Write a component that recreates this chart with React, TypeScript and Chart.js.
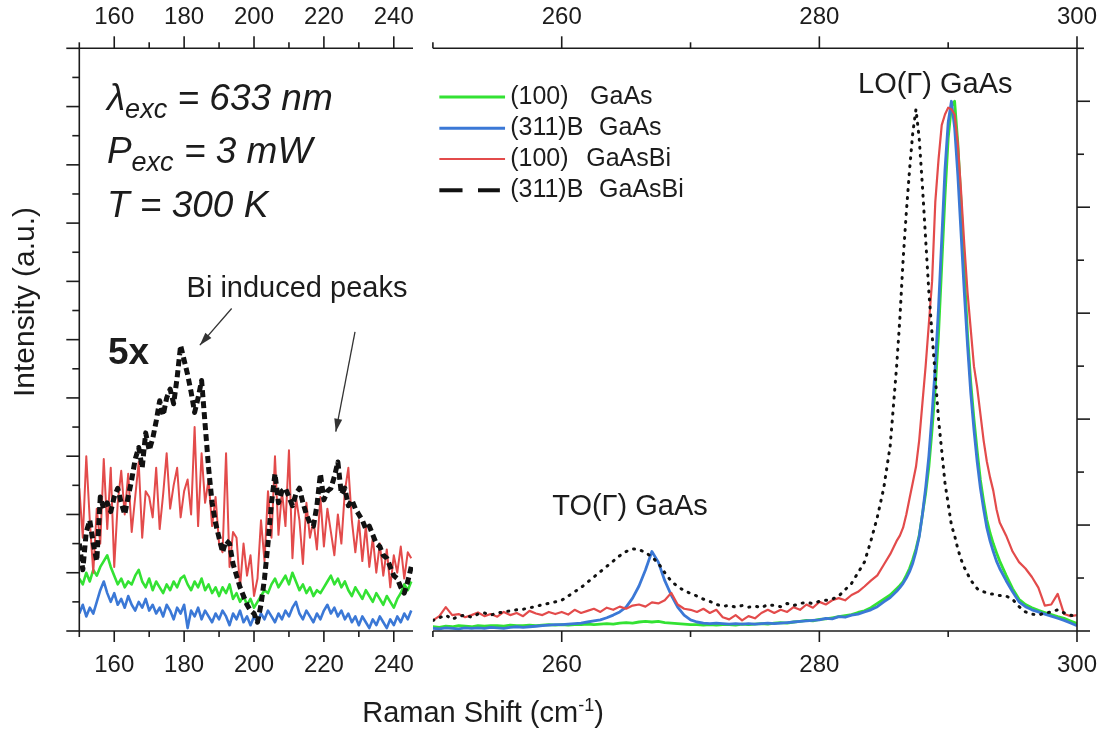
import React, { useEffect, useRef } from "react";
import { Chart, registerables } from "chart.js";

Chart.register(...registerables);

const W = 1100;
const H = 735;
const FONT = "'Liberation Sans', Arial, Helvetica, sans-serif";
const INK = "#1c1c1c";

const GREEN = "#33e233";
const BLUE = "#3b78d6";
const RED = "#e34b4b";
const BLACK = "#111111";

// ---- Low-frequency window (150–245 cm^-1), intensities scaled 5x ----
const lowShift = [
  150, 151, 152, 153, 154, 155, 156, 157, 158, 159,
  160, 161, 162, 163, 164, 165, 166, 167, 168, 169,
  170, 171, 172, 173, 174, 175, 176, 177, 178, 179,
  180, 181, 182, 183, 184, 185, 186, 187, 188, 189,
  190, 191, 192, 193, 194, 195, 196, 197, 198, 199,
  200, 201, 202, 203, 204, 205, 206, 207, 208, 209,
  210, 211, 212, 213, 214, 215, 216, 217, 218, 219,
  220, 221, 222, 223, 224, 225, 226, 227, 228, 229,
  230, 231, 232, 233, 234, 235, 236, 237, 238, 239,
  240, 241, 242, 243, 244, 245,
];

const lowGaAs100 = [
  1.8, 1.6, 2.0, 1.7, 2.1, 1.9, 2.2, 2.4, 2.6, 2.2,
  1.9, 1.6, 1.8, 1.5, 1.7, 1.6, 1.9, 2.1, 1.7, 1.5,
  1.8, 1.4, 1.7, 1.5, 1.3, 1.6, 1.4, 1.7, 1.5, 1.8,
  1.9, 1.6, 1.4, 1.7, 1.5, 1.8, 1.4, 1.6, 1.3, 1.5,
  1.2, 1.5, 1.3, 1.6, 1.1, 1.3, 1.0, 1.2, 0.9, 1.1,
  0.8, 1.0, 1.2, 1.4, 1.3, 1.6, 1.8, 1.5, 1.7, 1.9,
  1.6, 2.0, 1.7, 1.4, 1.6, 1.3, 1.5, 1.2, 1.4, 1.3,
  1.5, 1.7, 1.9, 1.6, 1.8, 1.5, 1.7, 1.4, 1.2, 1.5,
  1.3, 1.1, 1.4, 1.2, 1.0, 1.3, 1.1, 0.9, 1.2, 1.0,
  0.8, 1.1, 1.3, 1.6, 1.4, 1.7,
];

const lowGaAs311 = [
  0.6, 0.9, 0.5, 0.8, 0.6, 1.0, 1.4, 1.7, 1.3, 1.0,
  1.3, 0.9, 1.1, 0.8, 1.2, 0.9, 0.7, 1.0, 0.8, 1.1,
  0.7, 0.9, 0.6, 0.8, 0.5, 0.9, 0.7, 0.4, 0.8, 0.6,
  0.9, 0.1, 0.7, 0.5, 0.8, 0.4, 0.7, 0.5, 0.3, 0.6,
  0.4, 0.7, 0.5, 0.2, 0.6, 0.4, 0.7, 0.3, 0.5, 0.2,
  0.5, 0.3, 0.6, 0.4, 0.7, 0.5, 0.3, 0.6, 0.4, 0.7,
  0.5, 0.8, 1.0, 0.6, 0.4, 0.7, 0.5, 0.3, 0.6, 0.4,
  0.7, 0.9, 0.6, 0.8, 0.5, 0.7, 0.4, 0.6, 0.3, 0.5,
  0.2, 0.5, 0.3, 0.1, 0.4, 0.2, 0.5, 0.3, 0.1, 0.4,
  0.2, 0.5, 0.3, 0.6, 0.4, 0.7,
];

const lowBi100 = [
  4.9, 3.2, 6.0, 3.8, 2.0, 4.2, 3.0, 5.9, 3.5, 5.6,
  2.2, 4.4, 5.5, 4.0, 5.4, 3.4, 4.6, 5.8, 3.2, 4.8,
  4.6, 3.9, 5.6, 3.5, 4.7, 6.1, 4.2, 5.0, 5.6, 3.9,
  4.8, 5.2, 4.0, 7.0, 3.6, 6.1, 4.4, 5.2, 3.6, 4.6,
  3.0, 2.7, 6.1, 2.2, 3.4, 3.2, 1.5, 3.0, 1.9, 2.6,
  1.2, 1.8, 3.8, 2.4, 4.8, 3.2, 6.0, 3.3, 4.8, 3.6,
  6.2, 2.5, 4.6, 3.8, 2.3, 4.4, 3.2, 3.8, 2.8, 4.6,
  2.9, 4.2, 3.4, 2.6, 4.0, 3.0, 4.8, 5.6, 3.8, 2.7,
  3.8, 2.4, 3.6, 2.2, 3.2, 2.0, 3.0, 1.9, 2.8, 1.5,
  2.6, 2.0, 2.9, 1.8, 2.7, 2.5,
];

const lowBi311 = [
  3.0, 2.1, 3.4, 3.8, 3.0, 2.4, 4.6, 4.2, 4.4, 4.1,
  4.6, 4.9, 4.4, 4.0, 4.6, 5.2, 5.9, 6.3, 5.6, 6.8,
  6.2, 6.6, 7.2, 7.9, 7.4, 8.0, 8.3, 7.8, 8.7, 9.8,
  9.3, 8.8, 8.2, 7.5, 8.0, 8.6, 7.1, 5.6, 4.4, 3.7,
  3.2, 2.7, 3.1, 3.0, 2.3, 1.9, 1.5, 1.2, 0.9, 0.7,
  0.6, 0.3, 0.9, 1.8, 3.0, 4.4, 5.4, 4.4, 4.8, 4.9,
  4.6, 4.3, 4.7, 4.9, 4.4, 4.0, 3.7, 3.6, 4.3, 5.4,
  4.5, 4.8, 4.9, 5.3, 5.8, 4.7, 4.9, 4.3, 4.5, 4.2,
  4.0, 3.8, 3.5, 3.6, 3.3, 3.0, 2.9, 2.6, 2.5, 2.2,
  1.9, 1.8, 1.5, 1.3, 1.7, 2.2,
];

// ---- Phonon window (250–300 cm^-1) ----
const highShift = [
  250, 250.5, 251, 251.5, 252, 252.5, 253, 253.5, 254, 254.5,
  255, 255.5, 256, 256.5, 257, 257.5, 258, 258.5, 259, 259.5,
  260, 260.5, 261, 261.5, 262, 262.5, 263, 263.5, 264, 264.5,
  265, 265.5, 266, 266.5, 267, 267.5, 268, 268.5, 269, 269.5,
  270, 270.5, 271, 271.5, 272, 272.5, 273, 273.5, 274, 274.5,
  275, 275.5, 276, 276.5, 277, 277.5, 278, 278.5, 279, 279.5,
  280, 280.5, 281, 281.5, 282, 282.5, 283, 283.5, 284, 284.5,
  285, 285.5, 286,
  286.25, 286.5, 286.75, 287, 287.25, 287.5, 287.75, 288,
  288.25, 288.5, 288.75, 289, 289.25, 289.5, 289.75, 290,
  290.25, 290.5, 290.75, 291, 291.25, 291.5, 291.75, 292,
  292.25, 292.5, 292.75, 293, 293.25, 293.5, 293.75, 294,
  294.5, 295, 295.5, 296, 296.5, 297, 297.5, 298, 298.5, 299, 299.5, 300,
];

const highGaAs100 = [
  0.08, 0.07, 0.09, 0.08, 0.10, 0.09, 0.08, 0.10, 0.09, 0.10,
  0.10, 0.09, 0.11, 0.10, 0.10, 0.11, 0.10, 0.11, 0.12, 0.11,
  0.12, 0.11, 0.12, 0.12, 0.13, 0.12, 0.13, 0.14, 0.13, 0.15,
  0.16, 0.15, 0.17, 0.18, 0.17, 0.18, 0.16, 0.15, 0.14, 0.13,
  0.12, 0.12, 0.11, 0.12, 0.11, 0.12, 0.12, 0.11, 0.13, 0.12,
  0.13, 0.14, 0.13, 0.15, 0.16, 0.15, 0.17, 0.18, 0.20, 0.19,
  0.22, 0.23, 0.25, 0.27, 0.29, 0.31, 0.35, 0.38, 0.44, 0.52,
  0.60, 0.68, 0.80,
  0.86, 0.93, 1.05, 1.18, 1.35, 1.55, 1.80, 2.20,
  2.60, 3.10, 3.80, 4.60, 5.60, 6.90, 8.20, 9.30,
  9.90, 10.0, 9.20, 8.10, 6.80, 5.60, 4.70, 4.00,
  3.40, 2.85, 2.45, 2.10, 1.85, 1.65, 1.48, 1.32,
  1.05, 0.80, 0.60, 0.50, 0.44, 0.39, 0.35, 0.31, 0.27, 0.24, 0.19, 0.14,
];

const highGaAs311 = [
  0.05, 0.04, 0.06, 0.05, 0.04, 0.06, 0.05, 0.06, 0.05, 0.07,
  0.06, 0.05, 0.07, 0.08, 0.07, 0.08, 0.09, 0.10, 0.11, 0.12,
  0.12, 0.13, 0.14, 0.15, 0.17, 0.19, 0.21, 0.25, 0.30, 0.36,
  0.45, 0.62, 0.85, 1.15, 1.50, 1.30, 0.95, 0.68, 0.45, 0.30,
  0.21, 0.17, 0.15, 0.14, 0.15, 0.14, 0.13, 0.14, 0.13, 0.14,
  0.13, 0.14, 0.15, 0.14, 0.15, 0.16, 0.17, 0.18, 0.19, 0.20,
  0.21, 0.24, 0.23, 0.27, 0.26, 0.30, 0.32, 0.36, 0.40, 0.46,
  0.55, 0.63, 0.75,
  0.82, 0.90, 1.00, 1.12, 1.28, 1.50, 1.78, 2.20,
  2.70, 3.30, 4.10, 5.00, 6.10, 7.40, 8.70, 9.60,
  10.0, 9.50, 8.60, 7.50, 6.40, 5.40, 4.50, 3.80,
  3.20, 2.70, 2.30, 1.95, 1.70, 1.50, 1.32, 1.18,
  0.95, 0.74, 0.55, 0.46, 0.40, 0.36, 0.32, 0.28, 0.24, 0.20, 0.15, 0.10,
];

const highBi100 = [
  0.20, 0.28, 0.45, 0.30, 0.32, 0.26, 0.30, 0.35, 0.28, 0.32,
  0.27, 0.36, 0.30, 0.34, 0.28, 0.38, 0.33, 0.30, 0.36, 0.32,
  0.36, 0.31, 0.40, 0.34, 0.38, 0.42, 0.36, 0.44, 0.40, 0.46,
  0.42, 0.48, 0.50, 0.46, 0.54, 0.52, 0.58, 0.72, 0.50, 0.42,
  0.40, 0.36, 0.42, 0.34, 0.40, 0.26, 0.22, 0.30, 0.20, 0.28,
  0.24, 0.34, 0.40, 0.34, 0.40, 0.36, 0.45, 0.40, 0.50, 0.44,
  0.55, 0.50, 0.58, 0.62, 0.58, 0.68, 0.74, 0.84, 0.95, 1.05,
  1.25, 1.45, 1.70,
  1.80, 1.95, 2.20, 2.50, 2.80, 3.10, 3.60, 4.30,
  5.00, 5.80, 6.60, 8.10, 8.90, 9.55, 9.75, 9.88,
  9.85, 9.75, 9.20, 8.30, 7.30, 6.40, 5.70, 5.00,
  4.60, 4.10, 3.60, 3.20, 2.90, 2.65, 2.30, 2.05,
  1.80, 1.50, 1.30, 1.18, 1.02, 0.82, 0.48, 0.50, 0.70, 0.32, 0.28, 0.30,
];

const highBi311 = [
  0.20, 0.25, 0.30, 0.22, 0.28, 0.30, 0.26, 0.32, 0.34, 0.30,
  0.34, 0.36, 0.38, 0.40, 0.41, 0.44, 0.46, 0.50, 0.52, 0.55,
  0.58, 0.66, 0.74, 0.82, 0.92, 1.02, 1.12, 1.22, 1.32, 1.42,
  1.50, 1.55, 1.54, 1.48, 1.40, 1.28, 1.10, 0.94, 0.84, 0.76,
  0.71, 0.66, 0.60, 0.56, 0.50, 0.47, 0.48, 0.45, 0.48, 0.45,
  0.47, 0.44, 0.50, 0.48, 0.46, 0.52, 0.48, 0.52, 0.54, 0.52,
  0.56, 0.58, 0.60, 0.66, 0.78, 0.90, 1.10, 1.30, 1.70, 2.15,
  2.70, 3.50, 5.00,
  5.90, 7.00, 7.90, 8.70, 9.40, 9.85, 9.30, 8.40,
  7.40, 6.40, 5.60, 4.80, 4.00, 3.40, 2.80, 2.40,
  2.00, 1.80, 1.55, 1.35, 1.20, 1.08, 0.96, 0.88,
  0.80, 0.76, 0.74, 0.72, 0.70, 0.70, 0.68, 0.67,
  0.66, 0.60, 0.46, 0.36, 0.32, 0.30, 0.34, 0.36, 0.40, 0.34, 0.30, 0.26,
];

// ---- Axis ticks ----
const lowMajorTicks = [160, 180, 200, 220, 240];
const lowMinorTicks = [150, 170, 190, 210, 230];
const highMajorTicks = [260, 280, 300];
const highMinorTicks = [250, 270, 290];

const seriesFacet = ["(100)", "(311)B", "(100)", "(311)B"];
const seriesMaterial = ["GaAs", "GaAs", "GaAsBi", "GaAsBi"];

type Ctx = CanvasRenderingContext2D;

function seg(ctx: Ctx, x1: number, y1: number, x2: number, y2: number) {
  ctx.beginPath();
  ctx.moveTo(x1, y1);
  ctx.lineTo(x2, y2);
  ctx.stroke();
}

function arrow(ctx: Ctx, x1: number, y1: number, x2: number, y2: number) {
  ctx.save();
  ctx.strokeStyle = "#333";
  ctx.fillStyle = "#333";
  ctx.lineWidth = 1.3;
  seg(ctx, x1, y1, x2, y2);
  const ang = Math.atan2(y2 - y1, x2 - x1);
  const len = 13;
  const half = 4;
  ctx.beginPath();
  ctx.moveTo(x2, y2);
  ctx.lineTo(x2 - len * Math.cos(ang) + half * Math.sin(ang), y2 - len * Math.sin(ang) - half * Math.cos(ang));
  ctx.lineTo(x2 - len * Math.cos(ang) - half * Math.sin(ang), y2 - len * Math.sin(ang) + half * Math.cos(ang));
  ctx.closePath();
  ctx.fill();
  ctx.restore();
}

// text made of runs: [text, font, baseline shift]
function runs(ctx: Ctx, x: number, y: number, parts: [string, string, number][]) {
  let cx = x;
  for (const [t, f, dy] of parts) {
    ctx.font = f;
    ctx.fillText(t, cx, y + dy);
    cx += ctx.measureText(t).width;
  }
}

function runsWidth(ctx: Ctx, parts: [string, string, number][]) {
  let w = 0;
  for (const [t, f] of parts) {
    ctx.font = f;
    w += ctx.measureText(t).width;
  }
  return w;
}

function drawFrame(chart: Chart, majors: number[], minors: number[], side: "left" | "right") {
  const { ctx, chartArea: a } = chart;
  const sx = chart.scales.x;
  const sy = chart.scales.y;
  ctx.save();
  ctx.strokeStyle = INK;
  ctx.lineWidth = 1.6;
  seg(ctx, a.left, a.top, a.right, a.top);
  seg(ctx, a.left, a.bottom, a.right, a.bottom);
  const axisX = side === "left" ? a.left : a.right;
  seg(ctx, axisX, a.top, axisX, a.bottom);
  for (const v of majors) {
    const px = sx.getPixelForValue(v);
    seg(ctx, px, a.top, px, a.top - 12);
    seg(ctx, px, a.bottom, px, a.bottom + 11);
  }
  for (const v of minors) {
    const px = sx.getPixelForValue(v);
    seg(ctx, px, a.top, px, a.top - 6);
    seg(ctx, px, a.bottom, px, a.bottom + 6);
  }
  for (let v = sy.min; v <= sy.max + 1e-6; v += 1) {
    const py = sy.getPixelForValue(v);
    const len = Math.round(v) % 2 === 0 ? 13 : 7;
    if (side === "left") seg(ctx, a.left - len, py, a.left, py);
    else seg(ctx, a.right, py, a.right + len, py);
  }
  ctx.fillStyle = INK;
  ctx.font = `24px ${FONT}`;
  ctx.textAlign = "center";
  ctx.textBaseline = "alphabetic";
  for (const v of majors) {
    const px = sx.getPixelForValue(v);
    ctx.fillText(String(v), px, a.top - 24);
    ctx.fillText(String(v), px, a.bottom + 41);
  }
  ctx.restore();
}

const lowDecor = {
  id: "lowDecor",
  afterDraw(chart: Chart) {
    drawFrame(chart, lowMajorTicks, lowMinorTicks, "left");
    const { ctx } = chart;
    const sx = chart.scales.x;
    const sy = chart.scales.y;
    const X = (v: number) => sx.getPixelForValue(v);
    const Y = (v: number) => sy.getPixelForValue(v);
    ctx.save();
    ctx.fillStyle = INK;
    ctx.textAlign = "left";
    ctx.textBaseline = "alphabetic";

    const big = `italic 37px ${FONT}`;
    const sub = `italic 27px ${FONT}`;
    runs(ctx, X(157.9), Y(17.87), [["λ", big, 0], ["exc", sub, 8], [" = 633 nm", big, 0]]);
    runs(ctx, X(157.9), Y(16.05), [["P", big, 0], ["exc", sub, 8], [" = 3 mW", big, 0]]);
    runs(ctx, X(157.9), Y(14.2), [["T = 300 K", big, 0]]);

    ctx.font = `29px ${FONT}`;
    ctx.fillText("Bi induced peaks", X(180.7), Y(11.47));
    ctx.font = `bold 37px ${FONT}`;
    ctx.fillText("5x", X(158.2), Y(9.15));

    arrow(ctx, X(193.6), Y(11.07), X(184.5), Y(9.81));
    arrow(ctx, X(228.9), Y(10.27), X(223.4), Y(6.84));

    // y title
    ctx.save();
    ctx.translate(26, 302);
    ctx.rotate(-Math.PI / 2);
    ctx.textAlign = "center";
    ctx.font = `30px ${FONT}`;
    ctx.textBaseline = "middle";
    ctx.fillText("Intensity (a.u.)", 0, 0);
    ctx.restore();

    // x title with superscript
    const main = `29px ${FONT}`;
    const sup = `18px ${FONT}`;
    const title: [string, string, number][] = [["Raman Shift (cm", main, 0], ["-1", sup, -11], [")", main, 0]];
    const tw = runsWidth(ctx, title);
    runs(ctx, 483 - tw / 2, 722, title);
    ctx.restore();
  },
};

const highDecor = {
  id: "highDecor",
  afterDraw(chart: Chart) {
    drawFrame(chart, highMajorTicks, highMinorTicks, "right");
    const { ctx } = chart;
    const sx = chart.scales.x;
    const sy = chart.scales.y;
    const X = (v: number) => sx.getPixelForValue(v);
    const Y = (v: number) => sy.getPixelForValue(v);
    ctx.save();
    ctx.fillStyle = INK;
    ctx.textBaseline = "alphabetic";
    ctx.font = `29px ${FONT}`;
    ctx.textAlign = "center";
    ctx.fillText("LO(Γ) GaAs", X(289), Y(10.15));
    ctx.fillText("TO(Γ) GaAs", X(265.3), Y(2.19));

    // legend
    const rows = [10.08, 9.49, 8.91, 8.32];
    const materialAt = [262.2, 262.9, 261.9, 262.9];
    const colors = [GREEN, BLUE, RED, BLACK];
    ctx.textAlign = "left";
    ctx.textBaseline = "middle";
    rows.forEach((rv, i) => {
      const py = Y(rv);
      ctx.save();
      ctx.strokeStyle = colors[i];
      if (i === 3) {
        ctx.lineWidth = 4;
        seg(ctx, X(250.5), py, X(252.3), py);
        seg(ctx, X(253.5), py, X(255.2), py);
      } else {
        ctx.lineWidth = i === 2 ? 2.2 : 3;
        seg(ctx, X(250.5), py, X(255.6), py);
      }
      ctx.restore();
      ctx.font = `25px ${FONT}`;
      ctx.fillText(seriesFacet[i], X(256.0), py);
      ctx.fillText(seriesMaterial[i], X(materialAt[i]), py);
    });
    ctx.restore();
  },
};

function pts(xs: number[], ys: number[]) {
  return xs.map((x, i) => ({ x, y: ys[i] }));
}

function ds(label: string, xs: number[], ys: number[], color: string, width: number, dash?: number[], cap?: CanvasLineCap) {
  return {
    label,
    data: pts(xs, ys),
    borderColor: color,
    borderWidth: width,
    borderDash: dash ?? [],
    borderCapStyle: cap ?? "butt",
    borderJoinStyle: "round" as CanvasLineJoin,
    pointRadius: 0,
    tension: 0,
    fill: false,
  };
}

function makeConfig(
  datasets: any[],
  xmin: number,
  xmax: number,
  ymax: number,
  padding: { left: number; right: number; top: number; bottom: number },
  plugin: any
) {
  return {
    type: "line" as const,
    data: { datasets },
    options: {
      animation: false as const,
      responsive: false,
      devicePixelRatio: 1,
      layout: { padding },
      plugins: { legend: { display: false }, tooltip: { enabled: false }, title: { display: false } },
      events: [],
      scales: {
        x: { type: "linear" as const, min: xmin, max: xmax, display: false },
        y: { type: "linear" as const, min: 0, max: ymax, display: false },
      },
    },
    plugins: [plugin],
  };
}

export default function App() {
  const lowRef = useRef<HTMLCanvasElement>(null);
  const highRef = useRef<HTMLCanvasElement>(null);

  useEffect(() => {
    const low = new Chart(
      lowRef.current!,
      makeConfig(
        [
          ds("(311)B GaAsBi", lowShift, lowBi311, BLACK, 5, [7, 4], "butt"),
          ds("(100) GaAsBi", lowShift, lowBi100, RED, 2),
          ds("(311)B GaAs", lowShift, lowGaAs311, BLUE, 2.6),
          ds("(100) GaAs", lowShift, lowGaAs100, GREEN, 2.6),
        ],
        150,
        245.5,
        20,
        { left: 79.3, right: W - 413, top: 48.3, bottom: H - 631 },
        lowDecor
      ) as any
    );
    const high = new Chart(
      highRef.current!,
      makeConfig(
        [
          ds("(311)B GaAsBi", highShift, highBi311, BLACK, 3, [1, 7], "round"),
          ds("(100) GaAsBi", highShift, highBi100, RED, 2.2),
          ds("(311)B GaAs", highShift, highGaAs311, BLUE, 2.8),
          ds("(100) GaAs", highShift, highGaAs100, GREEN, 2.8),
        ],
        250,
        300,
        11,
        { left: 432.9, right: W - 1077, top: 48.3, bottom: H - 631 },
        highDecor
      ) as any
    );
    return () => {
      low.destroy();
      high.destroy();
    };
  }, []);

  const canvasStyle: React.CSSProperties = { position: "absolute", left: 0, top: 0, width: W, height: H };
  return (
    <div style={{ position: "absolute", left: 0, top: 0, width: W, height: H, background: "#fff", overflow: "hidden" }}>
      <canvas ref={lowRef} width={W} height={H} style={canvasStyle} />
      <canvas ref={highRef} width={W} height={H} style={canvasStyle} />
    </div>
  );
}
